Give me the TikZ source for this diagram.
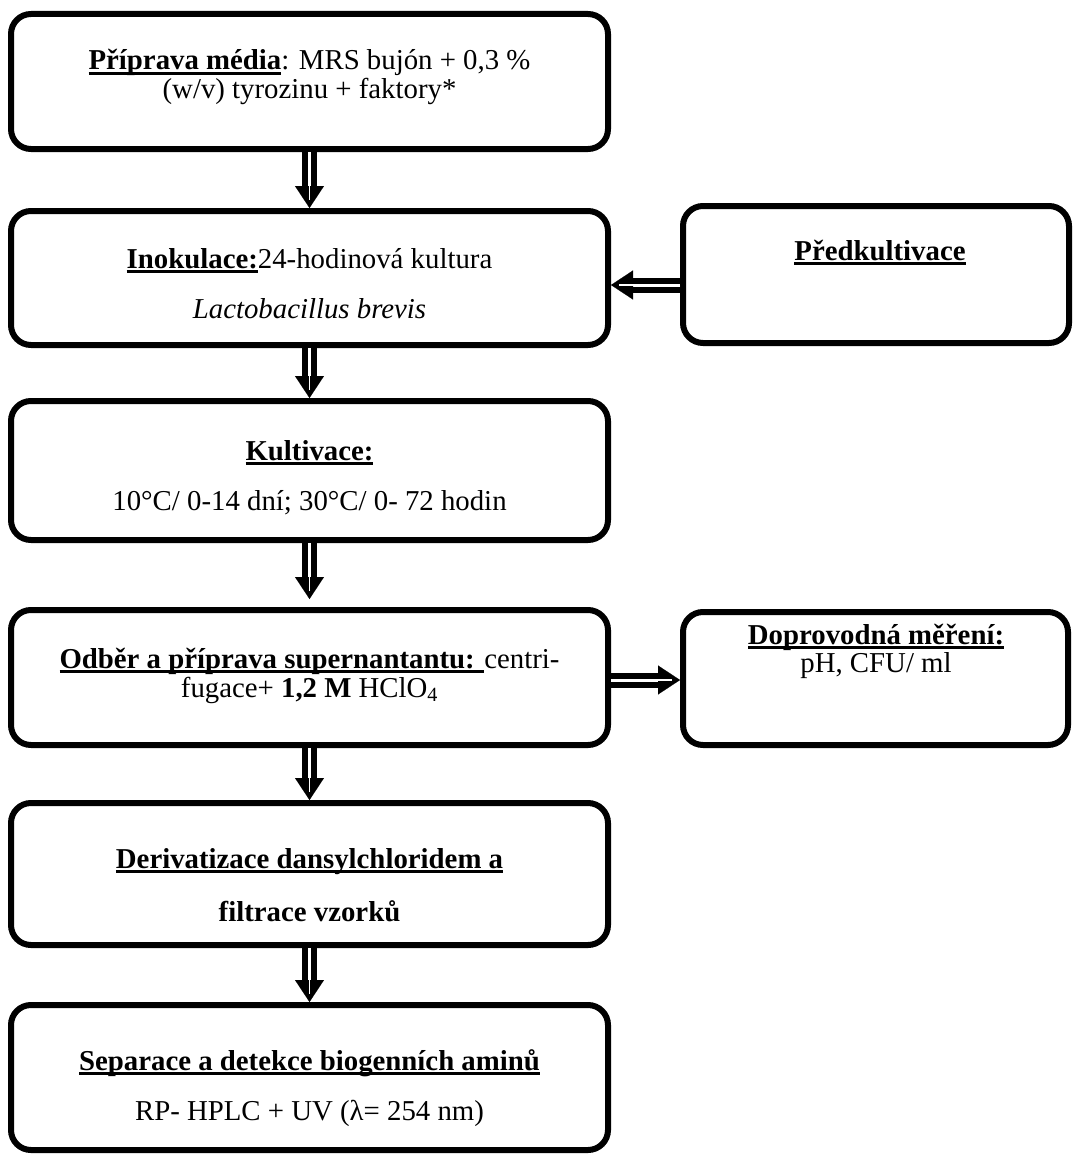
\documentclass[tikz,border=0pt]{standalone}
\usepackage{fontspec}
\setmainfont{Liberation Serif}
\usetikzlibrary{arrows.meta}
\newsavebox{\ulsave}
\newcommand{\ulbox}[1]{\sbox{\ulsave}{#1}\rlap{\rule[-5pt]{\wd\ulsave}{2.6pt}}\usebox{\ulsave}}
\tikzset{
  box/.style={draw, line width=6pt, rounded corners=20pt, inner sep=0pt},
  txt/.style={anchor=base, inner sep=0pt, font=\fontsize{28.8}{30}\selectfont},
  shaft/.style={line width=6pt, double=white, double distance=3pt},
  headtip/.style={-{Triangle[length=22pt,width=29pt]}, line width=0.1pt},
  innerline/.style={white, line width=1.4pt},
}
\newcommand{\dblarrow}[3][0]{%
  \draw[shaft, shorten >={(20+#1)*1pt}] (#2) -- (#3);
  \draw[headtip, shorten >={#1*1pt}] (#2) -- (#3);
  \draw[innerline, shorten >={(8+#1)*1pt}] (#2) -- (#3);
}
\begin{document}
\begin{tikzpicture}[x=1pt,y=-1pt]
\useasboundingbox (0,0) rectangle (1072,1156);
% boxes
\node[box, minimum width=597pt, minimum height=135pt] (b1) at (309.5,81.5) {};
\node[box, minimum width=597pt, minimum height=134pt] (b2) at (309.5,278) {};
\node[box, minimum width=597pt, minimum height=139pt] (b3) at (309.5,470.5) {};
\node[box, minimum width=597pt, minimum height=135pt] (b4) at (309.5,677.5) {};
\node[box, minimum width=597pt, minimum height=142pt] (b5) at (309.5,874) {};
\node[box, minimum width=597pt, minimum height=145pt] (b6) at (309.5,1077.5) {};
\node[box, minimum width=386pt, minimum height=137pt] (P) at (876,274.5) {};
\node[box, minimum width=385pt, minimum height=133pt] (D) at (875.5,678.5) {};
% texts
\node[txt] (t1a) at (309.5,70) {\ulbox{\textbf{Příprava média}}: MRS bujón + 0,3 \%};
\node[txt] (t1b) at (309.5,99) {(w/v) tyrozinu + faktory*};
\node[txt] (t2a) at (309.5,268) {\ulbox{\textbf{Inokulace:}}24-hodinová kultura};
\node[txt] (t2b) at (309.5,318) {\textit{Lactobacillus brevis}};
\node[txt] (tPa) at (880,260) {\ulbox{\textbf{Předkultivace}}};
\node[txt] (t3a) at (309.5,460) {\ulbox{\textbf{Kultivace:}}};
\node[txt] (t3b) at (309.5,510) {10°C/ 0-14 dní; 30°C/ 0- 72 hodin};
\node[txt] (t4a) at (309.5,668) {\ulbox{\textbf{Odběr a příprava supernantantu: }}centri-};
\node[txt] (t4b) at (309.5,697) {fugace+ \textbf{1,2 M} HClO\textsubscript{4}};
\node[txt] (tDa) at (876,644) {\ulbox{\textbf{Doprovodná měření:}}};
\node[txt] (tDb) at (876,672) {pH, CFU/ ml};
\node[txt] (t5a) at (309.5,868) {\ulbox{\textbf{Derivatizace dansylchloridem a}}};
\node[txt] (t5b) at (309.5,921) {\textbf{filtrace vzorků}};
\node[txt] (t6a) at (309.5,1070) {\ulbox{\textbf{Separace a detekce biogenních aminů}}};
\node[txt] (t6b) at (309.5,1120) {RP- HPLC + UV (λ= 254 nm)};
% connectors
\coordinate (yP) at (0,285);
\coordinate (yD) at (0,680);
\dblarrow{b1.south}{b2.north}
\dblarrow{b2.south}{b3.north}
\dblarrow[8]{b3.south}{b4.north}
\dblarrow{b4.south}{b5.north}
\dblarrow{b5.south}{b6.north}
\dblarrow{P.west |- yP}{b2.east |- yP}
\dblarrow{b4.east |- yD}{D.west |- yD}
\end{tikzpicture}
\end{document}
